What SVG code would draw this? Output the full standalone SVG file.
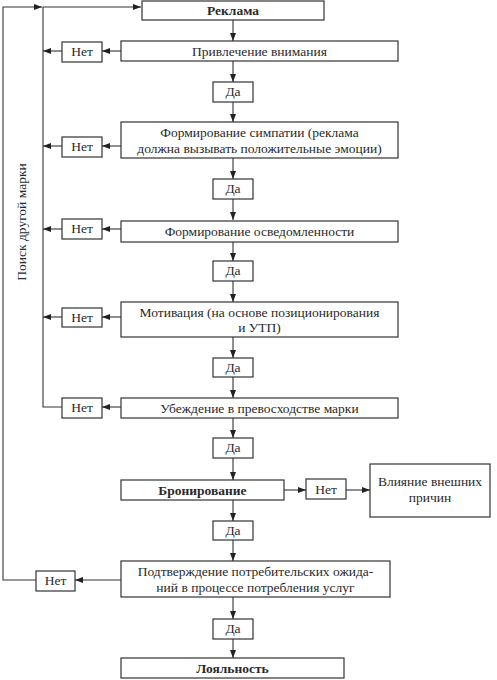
<svg xmlns="http://www.w3.org/2000/svg" width="497" height="680" viewBox="0 0 497 680" font-family="Liberation Serif, Times New Roman, serif">
<style>
rect{fill:#fff;stroke:#333;stroke-width:1.2}
text{font-size:13.5px;fill:#2a2a2a;text-anchor:middle}
.b{font-weight:bold}
.c{fill:none;stroke:#333;stroke-width:1.1}
</style>
<defs>
<marker id="a" viewBox="0 0 8 6" refX="8" refY="3" markerWidth="8" markerHeight="6" markerUnits="userSpaceOnUse" orient="auto">
<path d="M0,0 L8,3 L0,6 Z" fill="#222"/>
</marker>
</defs>
<rect x="0" y="0" width="497" height="680" style="fill:#fff;stroke:none"/>
<g id="connectors">
<polyline class="c" points="36,580 3,580 3,7 42,7" marker-end="url(#a)"/>
<polyline class="c" points="62,407 43,407 43,7 141,7" marker-end="url(#a)"/>
<line class="c" x1="121" y1="51" x2="102" y2="51" marker-end="url(#a)"/>
<line class="c" x1="62" y1="51" x2="43" y2="51" marker-end="url(#a)"/>
<line class="c" x1="121" y1="146" x2="102" y2="146" marker-end="url(#a)"/>
<line class="c" x1="62" y1="146" x2="43" y2="146" marker-end="url(#a)"/>
<line class="c" x1="121" y1="229" x2="102" y2="229" marker-end="url(#a)"/>
<line class="c" x1="62" y1="229" x2="43" y2="229" marker-end="url(#a)"/>
<line class="c" x1="121" y1="317" x2="102" y2="317" marker-end="url(#a)"/>
<line class="c" x1="62" y1="317" x2="43" y2="317" marker-end="url(#a)"/>
<line class="c" x1="121" y1="407" x2="102" y2="407" marker-end="url(#a)"/>
<line class="c" x1="121" y1="580" x2="75" y2="580" marker-end="url(#a)"/>
<line class="c" x1="284" y1="490" x2="306" y2="490" marker-end="url(#a)"/>
<line class="c" x1="346" y1="490" x2="370" y2="490" marker-end="url(#a)"/>
<line class="c" x1="233" y1="20" x2="233" y2="41" marker-end="url(#a)"/>
<line class="c" x1="233" y1="61" x2="233" y2="82" marker-end="url(#a)"/>
<line class="c" x1="233" y1="102" x2="233" y2="122" marker-end="url(#a)"/>
<line class="c" x1="233" y1="158" x2="233" y2="179" marker-end="url(#a)"/>
<line class="c" x1="233" y1="199" x2="233" y2="220" marker-end="url(#a)"/>
<line class="c" x1="233" y1="242" x2="233" y2="261" marker-end="url(#a)"/>
<line class="c" x1="233" y1="281" x2="233" y2="302" marker-end="url(#a)"/>
<line class="c" x1="233" y1="337" x2="233" y2="358" marker-end="url(#a)"/>
<line class="c" x1="233" y1="377" x2="233" y2="398" marker-end="url(#a)"/>
<line class="c" x1="233" y1="418" x2="233" y2="438" marker-end="url(#a)"/>
<line class="c" x1="233" y1="458" x2="233" y2="480" marker-end="url(#a)"/>
<line class="c" x1="233" y1="500" x2="233" y2="521" marker-end="url(#a)"/>
<line class="c" x1="233" y1="540" x2="233" y2="561" marker-end="url(#a)"/>
<line class="c" x1="233" y1="597" x2="233" y2="619" marker-end="url(#a)"/>
<line class="c" x1="233" y1="639" x2="233" y2="658" marker-end="url(#a)"/>
</g>
<text transform="translate(26,222) rotate(-90)">Поиск другой марки</text>
<g id="reklama"><rect x="142" y="1" width="182" height="19"/><text class="b" x="233" y="15">Реклама</text></g>
<g id="attention"><rect x="121" y="41" width="277" height="20"/><text x="259.5" y="55.5">Привлечение внимания</text></g>
<g id="net1"><rect x="62" y="42" width="40" height="20"/><text x="82" y="56">Нет</text></g>
<g id="da1"><rect x="213" y="82" width="40" height="20"/><text x="233" y="96">Да</text></g>
<g id="sympathy"><rect x="121" y="122" width="277" height="36"/><text x="259.5" y="137">Формирование симпатии (реклама</text><text x="259.5" y="153">должна вызывать положительные эмоции)</text></g>
<g id="net2"><rect x="62" y="137" width="40" height="20"/><text x="82" y="151">Нет</text></g>
<g id="da2"><rect x="213" y="179" width="40" height="20"/><text x="233" y="193">Да</text></g>
<g id="awareness"><rect x="121" y="221" width="277" height="21"/><text x="259.5" y="236">Формирование осведомленности</text></g>
<g id="net3"><rect x="62" y="219" width="40" height="20"/><text x="82" y="233">Нет</text></g>
<g id="da3"><rect x="213" y="261" width="40" height="20"/><text x="233" y="275">Да</text></g>
<g id="motivation"><rect x="121" y="302" width="277" height="35"/><text x="259.5" y="317">Мотивация (на основе позиционирования</text><text x="259.5" y="332">и УТП)</text></g>
<g id="net4"><rect x="62" y="308" width="40" height="19"/><text x="82" y="322">Нет</text></g>
<g id="da4"><rect x="213" y="358" width="40" height="19"/><text x="233" y="372">Да</text></g>
<g id="conviction"><rect x="121" y="398" width="277" height="20"/><text x="259.5" y="412.5">Убеждение в превосходстве марки</text></g>
<g id="net5"><rect x="62" y="398" width="40" height="20"/><text x="82" y="412">Нет</text></g>
<g id="da5"><rect x="213" y="438" width="40" height="20"/><text x="233" y="452">Да</text></g>
<g id="booking"><rect x="121" y="480" width="163" height="20"/><text class="b" x="202.5" y="494.5">Бронирование</text></g>
<g id="net6"><rect x="306" y="479" width="40" height="20"/><text x="326" y="493.5">Нет</text></g>
<g id="external"><rect x="370" y="464" width="120" height="53"/><text x="430" y="486">Влияние внешних</text><text x="430" y="502">причин</text></g>
<g id="da6"><rect x="213" y="521" width="40" height="19"/><text x="233" y="535">Да</text></g>
<g id="confirm"><rect x="121" y="561" width="269" height="36"/><text x="255.5" y="576">Подтверждение потребительских ожида-</text><text x="255.5" y="592">ний в процессе потребления услуг</text></g>
<g id="net7"><rect x="36" y="571" width="39" height="20"/><text x="55.5" y="585">Нет</text></g>
<g id="da7"><rect x="213" y="619" width="40" height="20"/><text x="233" y="633">Да</text></g>
<g id="loyalty"><rect x="121" y="658" width="223" height="20"/><text class="b" x="232.5" y="672.5">Лояльность</text></g>
</svg>
